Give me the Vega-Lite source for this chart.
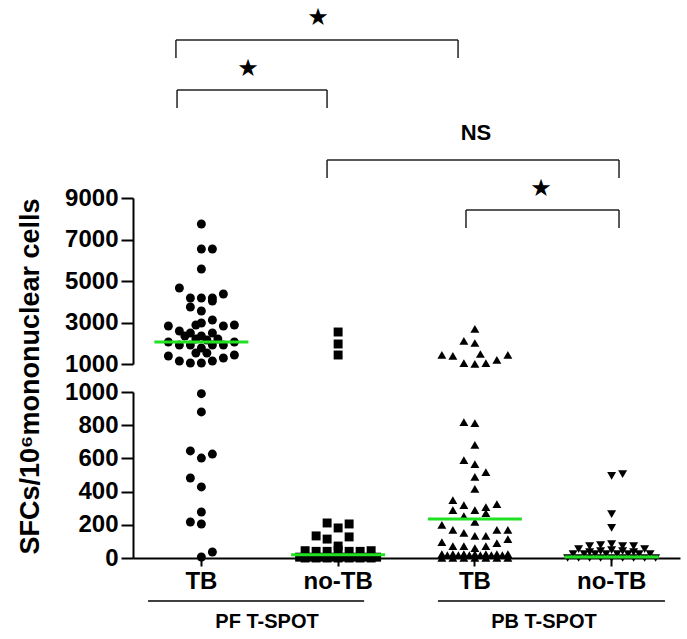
{
  "$schema": "https://vega.github.io/schema/vega-lite/v6.json",
  "padding": {"left": 15, "top": 5, "right": 5, "bottom": 5},
  "config": {
    "view": {"stroke": null},
    "font": "Liberation Sans",
    "axis": {"domainColor": "black", "tickColor": "black", "labelColor": "black", "titleColor": "black", "domainWidth": 2, "tickWidth": 2, "grid": false, "labelFont": "Liberation Sans", "titleFont": "Liberation Sans", "labelFontWeight": "bold", "titleFontWeight": "bold"}
  },
  "bounds": "flush",
  "spacing": 28,
  "datasets": {
    "pts": [
      {"g": "PF TB", "v": 7748, "j": 0}, {"g": "PF TB", "v": 6543, "j": 0}, {"g": "PF TB", "v": 6543, "j": 2}, {"g": "PF TB", "v": 5579, "j": 0},
      {"g": "PF TB", "v": 4663, "j": -4}, {"g": "PF TB", "v": 4374, "j": 4}, {"g": "PF TB", "v": 4181, "j": -2}, {"g": "PF TB", "v": 4181, "j": 0},
      {"g": "PF TB", "v": 4181, "j": 2}, {"g": "PF TB", "v": 4037, "j": 2}, {"g": "PF TB", "v": 3747, "j": -2}, {"g": "PF TB", "v": 3555, "j": 0},
      {"g": "PF TB", "v": 2832, "j": -6}, {"g": "PF TB", "v": 2591, "j": -4}, {"g": "PF TB", "v": 2350, "j": -3}, {"g": "PF TB", "v": 2494, "j": -2},
      {"g": "PF TB", "v": 2880, "j": -1}, {"g": "PF TB", "v": 2976, "j": 0}, {"g": "PF TB", "v": 3121, "j": 2}, {"g": "PF TB", "v": 2832, "j": 4},
      {"g": "PF TB", "v": 2880, "j": 6}, {"g": "PF TB", "v": 2060, "j": -6}, {"g": "PF TB", "v": 1916, "j": -4}, {"g": "PF TB", "v": 1916, "j": -2},
      {"g": "PF TB", "v": 1771, "j": 0}, {"g": "PF TB", "v": 2350, "j": 0}, {"g": "PF TB", "v": 1916, "j": 2}, {"g": "PF TB", "v": 2494, "j": 2},
      {"g": "PF TB", "v": 1916, "j": 4}, {"g": "PF TB", "v": 2060, "j": 6}, {"g": "PF TB", "v": 2205, "j": -1}, {"g": "PF TB", "v": 2157, "j": 1},
      {"g": "PF TB", "v": 2205, "j": 3}, {"g": "PF TB", "v": 1386, "j": -6}, {"g": "PF TB", "v": 1145, "j": -4}, {"g": "PF TB", "v": 1048, "j": -2},
      {"g": "PF TB", "v": 1048, "j": 0}, {"g": "PF TB", "v": 1145, "j": 2}, {"g": "PF TB", "v": 1289, "j": 4}, {"g": "PF TB", "v": 1434, "j": 6},
      {"g": "PF TB", "v": 1530, "j": -1}, {"g": "PF TB", "v": 1530, "j": 1},
      {"g": "PF TB", "v": 990, "j": 0}, {"g": "PF TB", "v": 880, "j": 0}, {"g": "PF TB", "v": 645, "j": -2}, {"g": "PF TB", "v": 602, "j": 0},
      {"g": "PF TB", "v": 626, "j": 2}, {"g": "PF TB", "v": 482, "j": -2}, {"g": "PF TB", "v": 428, "j": 0}, {"g": "PF TB", "v": 277, "j": 0},
      {"g": "PF TB", "v": 217, "j": -2}, {"g": "PF TB", "v": 205, "j": 0}, {"g": "PF TB", "v": 6, "j": 0}, {"g": "PF TB", "v": 36, "j": 2},

      {"g": "PF no-TB", "v": 2542, "j": 0}, {"g": "PF no-TB", "v": 1964, "j": 0}, {"g": "PF no-TB", "v": 1434, "j": 0},
      {"g": "PF no-TB", "v": 211, "j": -2}, {"g": "PF no-TB", "v": 181, "j": 0}, {"g": "PF no-TB", "v": 205, "j": 2}, {"g": "PF no-TB", "v": 133, "j": -4},
      {"g": "PF no-TB", "v": 114, "j": -2}, {"g": "PF no-TB", "v": 127, "j": 2}, {"g": "PF no-TB", "v": 72, "j": 0},
      {"g": "PF no-TB", "v": 44, "j": -6}, {"g": "PF no-TB", "v": 40, "j": -4}, {"g": "PF no-TB", "v": 40, "j": -2}, {"g": "PF no-TB", "v": 46, "j": 0},
      {"g": "PF no-TB", "v": 40, "j": 2}, {"g": "PF no-TB", "v": 40, "j": 4}, {"g": "PF no-TB", "v": 44, "j": 6},
      {"g": "PF no-TB", "v": 5, "j": -7}, {"g": "PF no-TB", "v": 0, "j": -6}, {"g": "PF no-TB", "v": 5, "j": -5}, {"g": "PF no-TB", "v": 0, "j": -4},
      {"g": "PF no-TB", "v": 5, "j": -3}, {"g": "PF no-TB", "v": 0, "j": -2}, {"g": "PF no-TB", "v": 5, "j": -1}, {"g": "PF no-TB", "v": 0, "j": 0},
      {"g": "PF no-TB", "v": 5, "j": 1}, {"g": "PF no-TB", "v": 0, "j": 2}, {"g": "PF no-TB", "v": 5, "j": 3}, {"g": "PF no-TB", "v": 0, "j": 4},
      {"g": "PF no-TB", "v": 5, "j": 5}, {"g": "PF no-TB", "v": 0, "j": 6}, {"g": "PF no-TB", "v": 5, "j": 7},

      {"g": "PB TB", "v": 2687, "j": 0}, {"g": "PB TB", "v": 2109, "j": -2}, {"g": "PB TB", "v": 2012, "j": 0}, {"g": "PB TB", "v": 1434, "j": -6},
      {"g": "PB TB", "v": 1386, "j": -4}, {"g": "PB TB", "v": 1482, "j": 1}, {"g": "PB TB", "v": 1193, "j": 4}, {"g": "PB TB", "v": 1434, "j": 6},
      {"g": "PB TB", "v": 1048, "j": -2}, {"g": "PB TB", "v": 1010, "j": 0}, {"g": "PB TB", "v": 1048, "j": 2},
      {"g": "PB TB", "v": 819, "j": -2}, {"g": "PB TB", "v": 813, "j": 0}, {"g": "PB TB", "v": 681, "j": 0}, {"g": "PB TB", "v": 590, "j": -2},
      {"g": "PB TB", "v": 566, "j": 0}, {"g": "PB TB", "v": 488, "j": 0}, {"g": "PB TB", "v": 518, "j": 2}, {"g": "PB TB", "v": 416, "j": 0},
      {"g": "PB TB", "v": 349, "j": -4}, {"g": "PB TB", "v": 319, "j": -2}, {"g": "PB TB", "v": 289, "j": 0}, {"g": "PB TB", "v": 307, "j": 2},
      {"g": "PB TB", "v": 325, "j": 4}, {"g": "PB TB", "v": 289, "j": -4}, {"g": "PB TB", "v": 253, "j": -2}, {"g": "PB TB", "v": 271, "j": 2},
      {"g": "PB TB", "v": 217, "j": 0}, {"g": "PB TB", "v": 199, "j": -6}, {"g": "PB TB", "v": 169, "j": -4}, {"g": "PB TB", "v": 151, "j": -2},
      {"g": "PB TB", "v": 133, "j": 0}, {"g": "PB TB", "v": 133, "j": 2}, {"g": "PB TB", "v": 169, "j": 4}, {"g": "PB TB", "v": 169, "j": 6},
      {"g": "PB TB", "v": 96, "j": -6}, {"g": "PB TB", "v": 72, "j": -4}, {"g": "PB TB", "v": 72, "j": -2}, {"g": "PB TB", "v": 60, "j": 0},
      {"g": "PB TB", "v": 72, "j": 2}, {"g": "PB TB", "v": 90, "j": 4}, {"g": "PB TB", "v": 114, "j": 6},
      {"g": "PB TB", "v": 24, "j": -6}, {"g": "PB TB", "v": 18, "j": -5}, {"g": "PB TB", "v": 24, "j": -4}, {"g": "PB TB", "v": 18, "j": -3},
      {"g": "PB TB", "v": 24, "j": -2}, {"g": "PB TB", "v": 18, "j": -1}, {"g": "PB TB", "v": 24, "j": 0}, {"g": "PB TB", "v": 18, "j": 1},
      {"g": "PB TB", "v": 24, "j": 2}, {"g": "PB TB", "v": 18, "j": 3}, {"g": "PB TB", "v": 24, "j": 4}, {"g": "PB TB", "v": 18, "j": 5},
      {"g": "PB TB", "v": 24, "j": 6}, {"g": "PB TB", "v": 0, "j": -6}, {"g": "PB TB", "v": 0, "j": -4}, {"g": "PB TB", "v": 0, "j": -2},
      {"g": "PB TB", "v": 0, "j": 0}, {"g": "PB TB", "v": 0, "j": 2}, {"g": "PB TB", "v": 0, "j": 4}, {"g": "PB TB", "v": 0, "j": 6},

      {"g": "PB no-TB", "v": 494, "j": 0}, {"g": "PB no-TB", "v": 506, "j": 2}, {"g": "PB no-TB", "v": 265, "j": 0}, {"g": "PB no-TB", "v": 181, "j": 0},
      {"g": "PB no-TB", "v": 84, "j": 0}, {"g": "PB no-TB", "v": 78, "j": -2}, {"g": "PB no-TB", "v": 72, "j": 2}, {"g": "PB no-TB", "v": 72, "j": -4},
      {"g": "PB no-TB", "v": 72, "j": 4}, {"g": "PB no-TB", "v": 54, "j": -6}, {"g": "PB no-TB", "v": 54, "j": 6},
      {"g": "PB no-TB", "v": 48, "j": 0}, {"g": "PB no-TB", "v": 42, "j": -2}, {"g": "PB no-TB", "v": 42, "j": 2}, {"g": "PB no-TB", "v": 36, "j": -4},
      {"g": "PB no-TB", "v": 36, "j": 4},
      {"g": "PB no-TB", "v": 24, "j": -7}, {"g": "PB no-TB", "v": 24, "j": -5}, {"g": "PB no-TB", "v": 24, "j": -3}, {"g": "PB no-TB", "v": 24, "j": -1},
      {"g": "PB no-TB", "v": 24, "j": 1}, {"g": "PB no-TB", "v": 24, "j": 3}, {"g": "PB no-TB", "v": 24, "j": 5}, {"g": "PB no-TB", "v": 24, "j": 7},
      {"g": "PB no-TB", "v": 0, "j": -8}, {"g": "PB no-TB", "v": 0, "j": -6}, {"g": "PB no-TB", "v": 0, "j": -4}, {"g": "PB no-TB", "v": 0, "j": -2},
      {"g": "PB no-TB", "v": 0, "j": 0}, {"g": "PB no-TB", "v": 0, "j": 2}, {"g": "PB no-TB", "v": 0, "j": 4}, {"g": "PB no-TB", "v": 0, "j": 6},
      {"g": "PB no-TB", "v": 0, "j": 8}
    ],
    "med": [
      {"g": "PF TB", "v": 2060}, {"g": "PF no-TB", "v": 20}, {"g": "PB TB", "v": 235}, {"g": "PB no-TB", "v": 6}
    ],
    "br": [
      {"ax": 0.314, "ax2": 2.377, "v": 16617, "v2": 15749},
      {"ax": 0.322, "ax2": 1.419, "v": 14207, "v2": 13339},
      {"ax": 1.419, "ax2": 3.554, "v": 10833, "v2": 9965},
      {"ax": 2.435, "ax2": 3.554, "v": 8423, "v2": 7555}
    ],
    "stars": [
      {"ax": 1.353, "v": 17677, "t": "★"},
      {"ax": 0.841, "v": 15219, "t": "★"},
      {"ax": 2.984, "v": 9435, "t": "★"}
    ],
    "ns": [
      {"ax": 2.508, "v": 12134, "t": "NS"}
    ],
    "grp": [
      {"ax": 0.11, "ax2": 1.69, "v": -259, "vt": -386, "t": "PF T-SPOT", "c": 0.98},
      {"ax": 2.23, "ax2": 3.89, "v": -259, "vt": -386, "t": "PB T-SPOT", "c": 3.005}
    ]
  },
  "vconcat": [
    {
      "width": 547,
      "height": 166,
      "resolve": {"scale": {"x": "independent"}},
      "encoding": {
        "y": {"field": "v", "type": "quantitative", "scale": {"domain": [1000, 9000], "nice": false, "zero": false},
              "axis": {"values": [1000, 3000, 5000, 7000, 9000], "format": "d", "title": null, "labelFontSize": 24, "tickSize": 12, "labelPadding": 3}}
      },
      "layer": [
        {
          "layer": [
            {
              "data": {"name": "pts"},
              "transform": [{"filter": "datum.v >= 1000"}],
              "mark": {"type": "point", "filled": true, "size": 80, "opacity": 1, "color": "black"},
              "encoding": {
                "x": {"field": "g", "type": "nominal", "scale": {"type": "band", "domain": ["PF TB", "PF no-TB", "PB TB", "PB no-TB"], "paddingInner": 0, "paddingOuter": 0}, "axis": null},
                "xOffset": {"field": "j", "type": "quantitative", "scale": {"domain": [-12.43, 12.43], "range": [0, 136.75]}},
                "shape": {"field": "g", "type": "nominal", "scale": {"domain": ["PF TB", "PF no-TB", "PB TB", "PB no-TB"], "range": ["circle", "square", "triangle-up", "triangle-down"]}, "legend": null}
              }
            },
            {
              "data": {"name": "med"},
              "transform": [{"filter": "datum.v >= 1000"}],
              "mark": {"type": "tick", "color": "#22e022", "size": 94, "thickness": 3, "opacity": 1},
              "encoding": {
                "x": {"field": "g", "type": "nominal", "scale": {"type": "band", "domain": ["PF TB", "PF no-TB", "PB TB", "PB no-TB"], "paddingInner": 0, "paddingOuter": 0}, "axis": null}
              }
            }
          ]
        },
        {
          "data": {"name": "br"},
          "mark": {"type": "rule", "color": "#222222", "strokeWidth": 1.5},
          "encoding": {
            "x": {"field": "ax", "type": "quantitative", "scale": {"domain": [0, 4], "nice": false, "zero": false}, "axis": null},
            "x2": {"field": "ax2"}
          }
        },
        {
          "data": {"name": "br"},
          "mark": {"type": "rule", "color": "#222222", "strokeWidth": 1.5},
          "encoding": {
            "x": {"field": "ax", "type": "quantitative", "scale": {"domain": [0, 4], "nice": false, "zero": false}, "axis": null},
            "y2": {"field": "v2"}
          }
        },
        {
          "data": {"name": "br"},
          "mark": {"type": "rule", "color": "#222222", "strokeWidth": 1.5},
          "encoding": {
            "x": {"field": "ax2", "type": "quantitative", "scale": {"domain": [0, 4], "nice": false, "zero": false}, "axis": null},
            "y2": {"field": "v2"}
          }
        },
        {
          "data": {"name": "stars"},
          "mark": {"type": "text", "font": "DejaVu Sans", "fontSize": 24, "color": "black", "baseline": "middle", "align": "center"},
          "encoding": {
            "x": {"field": "ax", "type": "quantitative", "scale": {"domain": [0, 4], "nice": false, "zero": false}, "axis": null},
            "text": {"field": "t"}
          }
        },
        {
          "data": {"name": "ns"},
          "mark": {"type": "text", "font": "Liberation Sans", "fontWeight": "bold", "fontSize": 22, "color": "black", "baseline": "middle", "align": "center"},
          "encoding": {
            "x": {"field": "ax", "type": "quantitative", "scale": {"domain": [0, 4], "nice": false, "zero": false}, "axis": null},
            "text": {"field": "t"}
          }
        }
      ]
    },
    {
      "width": 547,
      "height": 166,
      "resolve": {"scale": {"x": "independent"}},
      "encoding": {
        "y": {"field": "v", "type": "quantitative", "scale": {"domain": [0, 1000], "nice": false},
              "axis": {"values": [0, 200, 400, 600, 800, 1000], "format": "d", "labelFontSize": 24, "tickSize": 12, "labelPadding": 3,
                       "title": "SFCs/10⁶mononuclear cells", "titleFontSize": 27, "titleAngle": -90, "titleX": -95, "titleY": -16, "titleAlign": "center", "titleBaseline": "alphabetic"}}
      },
      "layer": [
        {
          "layer": [
            {
              "data": {"name": "pts"},
              "transform": [{"filter": "datum.v < 1000"}],
              "mark": {"type": "point", "filled": true, "size": 80, "opacity": 1, "color": "black"},
              "encoding": {
                "x": {"field": "g", "type": "nominal", "scale": {"type": "band", "domain": ["PF TB", "PF no-TB", "PB TB", "PB no-TB"], "paddingInner": 0, "paddingOuter": 0},
                      "axis": {"title": null, "labelExpr": "indexof(datum.value, 'no-TB') >= 0 ? 'no-TB' : 'TB'", "labelFontSize": 24, "labelAngle": 0, "tickSize": 8, "labelPadding": 3}},
                "xOffset": {"field": "j", "type": "quantitative", "scale": {"domain": [-12.43, 12.43], "range": [0, 136.75]}},
                "shape": {"field": "g", "type": "nominal", "scale": {"domain": ["PF TB", "PF no-TB", "PB TB", "PB no-TB"], "range": ["circle", "square", "triangle-up", "triangle-down"]}, "legend": null}
              }
            },
            {
              "data": {"name": "med"},
              "transform": [{"filter": "datum.v < 1000"}],
              "mark": {"type": "tick", "color": "#22e022", "size": 94, "thickness": 3, "opacity": 1},
              "encoding": {
                "x": {"field": "g", "type": "nominal", "scale": {"type": "band", "domain": ["PF TB", "PF no-TB", "PB TB", "PB no-TB"], "paddingInner": 0, "paddingOuter": 0},
                      "axis": {"title": null, "labelExpr": "indexof(datum.value, 'no-TB') >= 0 ? 'no-TB' : 'TB'", "labelFontSize": 24, "labelAngle": 0, "tickSize": 8, "labelPadding": 3}}
              }
            }
          ]
        },
        {
          "data": {"name": "grp"},
          "mark": {"type": "rule", "color": "black", "strokeWidth": 1.5},
          "encoding": {
            "x": {"field": "ax", "type": "quantitative", "scale": {"domain": [0, 4], "nice": false, "zero": false}, "axis": null},
            "x2": {"field": "ax2"}
          }
        },
        {
          "data": {"name": "grp"},
          "mark": {"type": "text", "font": "Liberation Sans", "fontWeight": "bold", "fontSize": 20, "color": "black", "baseline": "middle", "align": "center"},
          "encoding": {
            "x": {"field": "c", "type": "quantitative", "scale": {"domain": [0, 4], "nice": false, "zero": false}, "axis": null},
            "y": {"field": "vt", "type": "quantitative"},
            "text": {"field": "t"}
          }
        }
      ]
    }
  ]
}
